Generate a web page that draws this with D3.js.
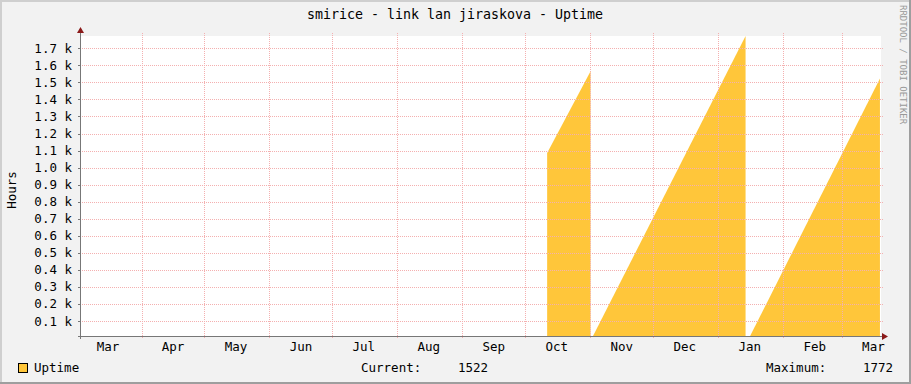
<!DOCTYPE html>
<html>
<head>
<meta charset="utf-8">
<script src="https://cdn.jsdelivr.net/npm/d3@7"></script>
<style>
  body { margin: 0; background: #f2f2f2; }
  svg text { font-family: "DejaVu Sans Mono", monospace; }
</style>
</head>
<body>
<svg id="chart"></svg>
<script>
// uptime samples, one array per run between reboots
var run1Dates = ["2010-10-11T10:00Z", "2010-11-01T03:00Z"];
var run1Hours = [1085, 1565];
var run2Dates = ["2010-11-02T07:00Z", "2011-01-14T01:00Z"];
var run2Hours = [12, 1772];
var run3Dates = ["2011-01-16T05:00Z", "2011-03-19T03:00Z"];
var run3Hours = [12, 1522];

var yTicks = [100, 200, 300, 400, 500, 600, 700, 800, 900, 1000, 1100, 1200, 1300, 1400, 1500, 1600, 1700];
var timeRange = ["2010-03-03T03:00Z", "2011-03-19T15:00Z"];
var valueRange = [12, 1772];

var title = "smirice - link lan jiraskova - Uptime";
var legendName = "Uptime";
var currentValue = 1522;
var maximumValue = 1772;

var width = 911;
var height = 384;
var pLeft = 81, pRight = 881, pTop = 36, pBottom = 336;

var gridColor = "#f4b0b0";
var fillColor = "#ffc63a";
var arrowColor = "#8b1a1a";

var svg = d3.select("#chart")
  .attr("width", width)
  .attr("height", height);

// frame with 3d edges like rrdtool
svg.append("rect")
  .attr("x", 0).attr("y", 0)
  .attr("width", width).attr("height", height)
  .attr("fill", "#f2f2f2");
svg.append("rect").attr("x", 0).attr("y", 0).attr("width", width).attr("height", 2).attr("fill", "#cfcfcf");
svg.append("rect").attr("x", 0).attr("y", 0).attr("width", 2).attr("height", height).attr("fill", "#cfcfcf");
svg.append("rect").attr("x", width - 2).attr("y", 0).attr("width", 2).attr("height", height).attr("fill", "#9e9e9e");
svg.append("rect").attr("x", 0).attr("y", height - 2).attr("width", width).attr("height", 2).attr("fill", "#9e9e9e");

svg.append("rect")
  .attr("x", pLeft).attr("y", pTop)
  .attr("width", pRight - pLeft).attr("height", pBottom - pTop)
  .attr("fill", "#ffffff");

var x = d3.scaleUtc()
  .domain(timeRange.map(function(d) { return new Date(d); }))
  .range([pLeft, pRight]);

var y = d3.scaleLinear()
  .domain(valueRange)
  .range([pBottom, pTop]);

// data first, grid is drawn on top of it
var area = d3.area()
  .x(function(d) { return x(d.date); })
  .y0(pBottom)
  .y1(function(d) { return y(d.value); });

var runs = [[run1Dates, run1Hours], [run2Dates, run2Hours], [run3Dates, run3Hours]];
runs.forEach(function(r) {
  var pts = r[0].map(function(d, i) { return { date: new Date(d), value: r[1][i] }; });
  svg.append("path")
    .datum(pts)
    .attr("d", area)
    .attr("fill", fillColor);
});

var grid = svg.append("g").attr("shape-rendering", "crispEdges");

grid.selectAll(".hgrid")
  .data(yTicks)
  .enter().append("line")
  .attr("x1", pLeft - 1)
  .attr("x2", pRight + 3)
  .attr("y1", function(d) { return Math.round(y(d)) + 0.5; })
  .attr("y2", function(d) { return Math.round(y(d)) + 0.5; })
  .attr("stroke", gridColor)
  .attr("stroke-dasharray", "1,1");

var months = d3.utcMonth.range(x.domain()[0], x.domain()[1]);

grid.selectAll(".vgrid")
  .data(months)
  .enter().append("line")
  .attr("x1", function(d) { return Math.round(x(d)) + 0.5; })
  .attr("x2", function(d) { return Math.round(x(d)) + 0.5; })
  .attr("y1", pTop - 3)
  .attr("y2", pBottom + 3)
  .attr("stroke", gridColor)
  .attr("stroke-dasharray", "1,1");

// y ticks and labels
grid.selectAll(".ytick")
  .data(yTicks)
  .enter().append("line")
  .attr("x1", pLeft - 3)
  .attr("x2", pLeft)
  .attr("y1", function(d) { return Math.round(y(d)) + 0.5; })
  .attr("y2", function(d) { return Math.round(y(d)) + 0.5; })
  .attr("stroke", "#777");

svg.selectAll(".ylabel")
  .data(yTicks)
  .enter().append("text")
  .attr("x", 72)
  .attr("y", function(d) { return y(d) + 4.5; })
  .attr("text-anchor", "end")
  .attr("font-size", "12.5px")
  .text(function(d) { return d3.format(".1f")(d / 1000) + " k"; });

// month labels sit in the middle of each month
var labelMonths = d3.utcMonth.range(d3.utcMonth.floor(x.domain()[0]), x.domain()[1]);

svg.selectAll(".xlabel")
  .data(labelMonths)
  .enter().append("text")
  .attr("x", function(d) { return x(d3.utcDay.offset(d, 15)); })
  .attr("y", 351)
  .attr("text-anchor", "middle")
  .attr("font-size", "12.5px")
  .text(function(d) { return d3.utcFormat("%b")(d); });

// axes with arrows
var axes = svg.append("g").attr("shape-rendering", "crispEdges");
axes.append("line")
  .attr("x1", pLeft - 0.5).attr("x2", pLeft - 0.5)
  .attr("y1", pTop - 3).attr("y2", pBottom + 3)
  .attr("stroke", "#777");
axes.append("line")
  .attr("x1", pLeft - 3).attr("x2", pRight + 3)
  .attr("y1", pBottom + 0.5).attr("y2", pBottom + 0.5)
  .attr("stroke", "#777");

svg.append("path")
  .attr("d", "M" + (pLeft - 4) + "," + (pTop - 3) + "L" + (pLeft + 3) + "," + (pTop - 3) + "L" + (pLeft - 0.5) + "," + (pTop - 9) + "Z")
  .attr("fill", arrowColor);
svg.append("path")
  .attr("d", "M" + (pRight + 1) + "," + (pBottom - 3) + "L" + (pRight + 1) + "," + (pBottom + 4) + "L" + (pRight + 7) + "," + (pBottom + 0.5) + "Z")
  .attr("fill", arrowColor);

// title and axis title
svg.append("text")
  .attr("x", 455)
  .attr("y", 19)
  .attr("text-anchor", "middle")
  .attr("font-size", "13.3px")
  .text(title);

svg.append("text")
  .attr("transform", "translate(16,190) rotate(-90)")
  .attr("text-anchor", "middle")
  .attr("font-size", "12.5px")
  .text("Hours");

svg.append("text")
  .attr("transform", "translate(900,5) rotate(90)")
  .attr("font-size", "9px")
  .attr("fill", "#999")
  .text("RRDTOOL / TOBI OETIKER");

// legend
svg.append("rect")
  .attr("x", 18.5).attr("y", 363.5)
  .attr("width", 9).attr("height", 9)
  .attr("fill", fillColor)
  .attr("stroke", "#000");

svg.append("text")
  .attr("x", 34).attr("y", 372)
  .attr("font-size", "12.5px")
  .text(legendName);

svg.append("text")
  .attr("x", 361).attr("y", 372)
  .attr("font-size", "12.5px")
  .text("Current:");
svg.append("text")
  .attr("x", 488).attr("y", 372)
  .attr("text-anchor", "end")
  .attr("font-size", "12.5px")
  .text(currentValue);

svg.append("text")
  .attr("x", 766).attr("y", 372)
  .attr("font-size", "12.5px")
  .text("Maximum:");
svg.append("text")
  .attr("x", 893).attr("y", 372)
  .attr("text-anchor", "end")
  .attr("font-size", "12.5px")
  .text(maximumValue);
</script>
</body>
</html>
